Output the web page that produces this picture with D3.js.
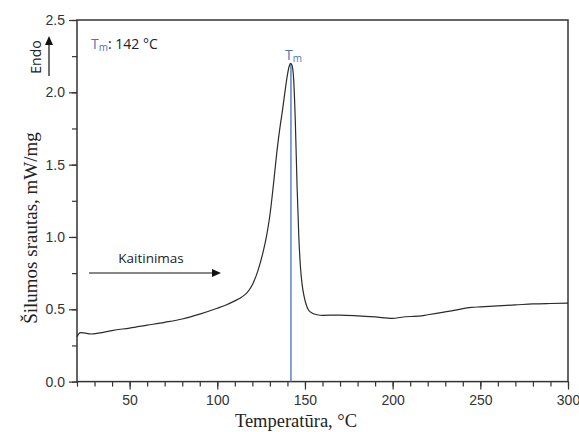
<!doctype html>
<html>
<head>
  <meta charset="utf-8">
  <title>DSC</title>
  <style>
    body { margin: 0; background: #fff; }
    svg { display: block; }
  </style>
</head>
<body>
  <div id="chart"></div>

  <script src="https://d3js.org/d3.v7.min.js"></script>

  <script>
    // data
    var temps = [20, 21, 22, 25, 28, 35, 40, 50, 60, 70, 80, 90, 100, 105, 110, 114, 117, 120, 123, 126,
      128, 130, 132, 134, 136, 137, 138, 139, 140, 141, 141.7, 142.5, 143.5, 144.5, 145.5, 146.5, 147.5,
      148.5, 149.5, 150.5, 152, 154, 157, 160, 170, 180, 190, 200, 205, 210, 215, 220, 225, 230, 235,
      240, 245, 250, 260, 270, 280, 290, 300];
    var flow = [0.31, 0.33, 0.338, 0.335, 0.329, 0.34, 0.353, 0.37, 0.39, 0.41, 0.433, 0.467, 0.507, 0.53,
      0.558, 0.585, 0.615, 0.67, 0.76, 0.89, 1.0, 1.15, 1.36, 1.59, 1.78, 1.86, 1.95, 2.04, 2.12, 2.18,
      2.2, 2.19, 2.1, 1.8, 1.35, 1.0, 0.78, 0.66, 0.59, 0.54, 0.495, 0.475, 0.462, 0.458, 0.46, 0.455,
      0.447, 0.437, 0.445, 0.45, 0.452, 0.462, 0.472, 0.482, 0.492, 0.505, 0.513, 0.517, 0.524, 0.53,
      0.537, 0.54, 0.542];
    var xMajor = [50, 100, 150, 200, 250, 300];
    var yMajor = [0, 0.5, 1.0, 1.5, 2.0, 2.5];
    var tm = 142;

    var W = 579, H = 432;
    var pL = 77, pR = 568, pT = 20, pB = 381.6;

    var svg = d3.select('#chart').append('svg')
      .attr('width', W)
      .attr('height', H);

    var x = d3.scaleLinear().domain([20, 300]).range([pL, pR]);
    var y = d3.scaleLinear().domain([0, 2.5]).range([pB, pT]);

    var tickFont = '"Liberation Sans", Arial, sans-serif';
    var serif = '"Liberation Serif", "Times New Roman", serif';
    var annoFont = '"Open Sans", sans-serif';

    // minor ticks
    svg.append('g')
      .attr('transform', 'translate(0,' + pB + ')')
      .call(d3.axisBottom(x).tickValues(d3.range(20, 301, 10)).tickSize(5).tickFormat(''))
      .call(g => g.select('.domain').remove());
    svg.append('g')
      .attr('transform', 'translate(' + pL + ',0)')
      .call(d3.axisLeft(y).tickValues(d3.range(0, 2.51, 0.25)).tickSize(5).tickFormat(''))
      .call(g => g.select('.domain').remove());

    // major ticks + labels
    var xa = svg.append('g')
      .attr('transform', 'translate(0,' + pB + ')')
      .call(d3.axisBottom(x).tickValues(xMajor).tickSize(8).tickPadding(5).tickFormat(d3.format('d')));
    xa.select('.domain').remove();
    xa.selectAll('text').attr('font-family', tickFont).attr('font-size', 14).attr('fill', '#333');

    var ya = svg.append('g')
      .attr('transform', 'translate(' + pL + ',0)')
      .call(d3.axisLeft(y).tickValues(yMajor).tickSize(8).tickPadding(4).tickFormat(d3.format('.1f')));
    ya.select('.domain').remove();
    ya.selectAll('text').attr('font-family', tickFont).attr('font-size', 14).attr('fill', '#333');

    svg.selectAll('.tick line').attr('stroke', '#333').attr('stroke-width', 1.2);

    // frame
    svg.append('rect')
      .attr('x', pL).attr('y', pT)
      .attr('width', pR - pL).attr('height', pB - pT)
      .attr('fill', 'none')
      .attr('stroke', '#333')
      .attr('stroke-width', 1.5);

    // Tm line
    svg.append('line')
      .attr('x1', x(tm)).attr('x2', x(tm))
      .attr('y1', y(2.2)).attr('y2', pB)
      .attr('stroke', '#5b85bd')
      .attr('stroke-width', 1.5);

    // curve
    var pts = temps.map((t, i) => [t, flow[i]]);
    svg.append('path')
      .datum(pts)
      .attr('fill', 'none')
      .attr('stroke', '#2b2b2b')
      .attr('stroke-width', 1.2)
      .attr('d', d3.line().x(d => x(d[0])).y(d => y(d[1])).curve(d3.curveMonotoneX));

    // Tm label at the peak
    var tl = svg.append('text')
      .attr('x', x(tm) - 6).attr('y', 60)
      .attr('font-family', annoFont).attr('font-size', 14)
      .attr('fill', '#4a76b8');
    tl.append('tspan').text('T');
    tl.append('tspan').attr('font-size', 10).attr('dy', 2).text('m');

    // Tm value
    var tv = svg.append('text')
      .attr('x', 91).attr('y', 49)
      .attr('font-family', annoFont).attr('font-size', 14)
      .attr('fill', '#222');
    tv.append('tspan').attr('fill', '#4a76b8').text('T');
    tv.append('tspan').attr('fill', '#4a76b8').attr('font-size', 10).attr('dy', 2).text('m');
    tv.append('tspan').attr('dy', -2).text(': ' + tm + ' °C');

    // Endo arrow
    svg.append('text')
      .attr('transform', 'translate(41,57) rotate(-90)')
      .attr('text-anchor', 'middle')
      .attr('font-family', annoFont).attr('font-size', 14)
      .attr('fill', '#222')
      .text('Endo');
    svg.append('line')
      .attr('x1', 49).attr('x2', 49).attr('y1', 76).attr('y2', 44)
      .attr('stroke', '#111').attr('stroke-width', 1.2);
    svg.append('path')
      .attr('d', 'M49,36 L45,45 L53,45 Z')
      .attr('fill', '#111');

    // heating arrow
    svg.append('text')
      .attr('x', 151).attr('y', 263)
      .attr('text-anchor', 'middle')
      .attr('font-family', annoFont).attr('font-size', 13.5)
      .attr('fill', '#222')
      .text('Kaitinimas');
    svg.append('line')
      .attr('x1', 89).attr('x2', 212).attr('y1', 273).attr('y2', 273)
      .attr('stroke', '#111').attr('stroke-width', 1);
    svg.append('path')
      .attr('d', 'M221,273 L212,269 L212,277 Z')
      .attr('fill', '#111');

    // axis titles
    svg.append('text')
      .attr('x', 296).attr('y', 427)
      .attr('text-anchor', 'middle')
      .attr('font-family', serif).attr('font-size', 18.5)
      .attr('fill', '#222')
      .text('Temperatūra, °C');
    svg.append('text')
      .attr('transform', 'translate(37,228) rotate(-90)')
      .attr('text-anchor', 'middle')
      .attr('font-family', serif).attr('font-size', 19)
      .attr('fill', '#222')
      .text('Šilumos srautas, mW/mg');
  </script>
</body>
</html>
